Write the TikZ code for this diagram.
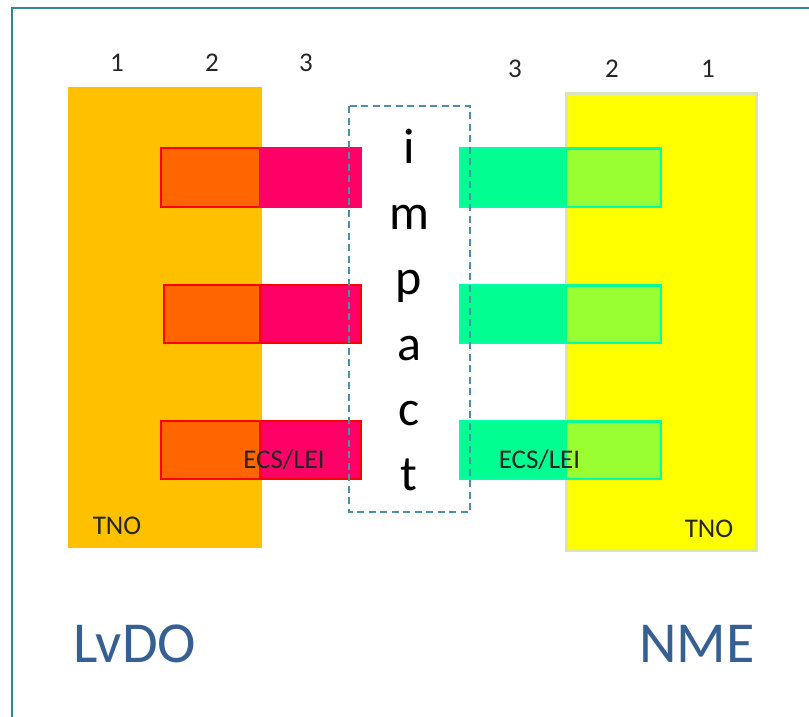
\documentclass[tikz,border=0pt]{standalone}
\usepackage{fontspec}
\setmainfont{Carlito}
\definecolor{frameteal}{HTML}{31859C}
\definecolor{dashteal}{HTML}{4A90A8}
\definecolor{lvdoorange}{HTML}{FFC000}
\definecolor{nmeyellow}{HTML}{FFFF00}
\definecolor{nmeedge}{HTML}{D7E4BD}
\definecolor{barorange}{HTML}{FF6600}
\definecolor{barpink}{HTML}{FF0066}
\definecolor{barred}{HTML}{FF0000}
\definecolor{bargreen}{HTML}{00FF90}
\definecolor{bargreenedge}{HTML}{00FFA8}
\definecolor{barlime}{HTML}{99FF33}
\definecolor{titleblue}{HTML}{376092}
\tikzset{
  colnum/.style={anchor=base, font=\fontsize{27}{32}\selectfont, text=black!85},
  smalllbl/.style={anchor=base, font=\fontsize{27}{32}\selectfont, text=black!85},
  bigletter/.style={anchor=base, font=\fontsize{50}{60}\selectfont, text=black},
  partyname/.style={anchor=base, font=\fontsize{58}{70}\selectfont, text=titleblue},
}
\begin{document}
\begin{tikzpicture}[x=1pt,y=-1pt]
\useasboundingbox (0,0) rectangle (809,716);
\fill[white] (0,0) rectangle (809,716);
% outer frame (runs past the right and bottom edges)
\begin{scope}
\clip (0,0) rectangle (809,716);
\draw[frameteal, line width=2pt] (12,8) rectangle (830,740);
\end{scope}

% party columns
\fill[lvdoorange] (68,87) rectangle (262,548);
\draw[nmeedge, line width=3pt, fill=nmeyellow] (566,93) rectangle (756,550);

% left bars
\draw[barred, line width=2.5pt, fill=barorange] (161,148) rectangle (260,207);
\fill[barpink] (259,146.8) rectangle (362,208.2);
\draw[barred, line width=2.5pt, fill=barpink] (164,285) rectangle (361,343);
\draw[barred, line width=2.5pt, fill=barorange] (164,285) rectangle (260,343);
\draw[barred, line width=2.5pt, fill=barpink] (161,421) rectangle (361,479);
\draw[barred, line width=2.5pt, fill=barorange] (161,421) rectangle (260,479);

% right bars
\foreach \yt/\yb in {148/207, 285/343, 421/479}{
  \draw[bargreenedge, line width=2.5pt, fill=bargreen] (460,\yt) rectangle (661,\yb);
  \fill[barlime] (567,\yt+1.5) rectangle (659.5,\yb-1.5);
}

% impact zone
\draw[dashteal, line width=1.2pt, dash pattern=on 7pt off 4.5pt] (349,106) rectangle (470,512);
\node[bigletter] (li) at (409,163) {i};
\node[bigletter] (lm) at (409,229) {m};
\node[bigletter] (lp) at (409,294) {p};
\node[bigletter] (la) at (409,360) {a};
\node[bigletter] (lc) at (409,425) {c};
\node[bigletter] (lt) at (409,490) {t};

% column numbers
\node[colnum] (l1) at (117,71) {1};
\node[colnum] (l2) at (212,71) {2};
\node[colnum] (l3) at (306,71) {3};
\node[colnum] (r3) at (515,77) {3};
\node[colnum] (r2) at (612,77) {2};
\node[colnum] (r1) at (708,77) {1};

% labels inside the columns
\node[smalllbl] (tnol) at (117,534) {TNO};
\node[smalllbl] (tnor) at (709,537) {TNO};
\node[smalllbl] (ecsl) at (284,468) {ECS/LEI};
\node[smalllbl] (ecsr) at (539.5,468) {ECS/LEI};

% party names
\node[partyname] (lvdo) at (135,662) {LvDO};
\node[partyname] (nme) at (697,662) {NME};
\end{tikzpicture}
\end{document}
